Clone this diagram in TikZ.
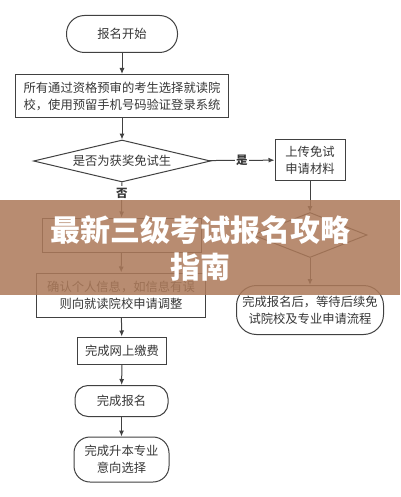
\documentclass[tikz,border=0pt]{standalone}
\usepackage{fontspec}
\setmainfont{Noto Sans CJK SC}
\newfontfamily\cjk{Noto Sans CJK SC}
\usetikzlibrary{shapes.geometric,arrows.meta}
\definecolor{ln}{RGB}{65,65,65}
\definecolor{tx}{RGB}{55,55,55}
\definecolor{band}{RGB}{173,122,90}
\begin{document}
\begin{tikzpicture}[x=1pt,y=-1pt,
  every node/.style={font=\cjk\fontsize{12.3}{17}\selectfont, text=tx, align=center, inner sep=0pt},
  box/.style={draw=ln, line width=1pt, rectangle},
  term/.style={draw=ln, line width=1pt, rectangle, rounded corners=#1},
  dia/.style={draw=ln, line width=1pt, diamond},
  arr/.style={draw=ln, line width=1pt, -{Latex[length=6pt,width=5pt]}},
  lab/.style={fill=white, inner sep=1.5pt, font=\cjk\bfseries\fontsize{11.5}{14}\selectfont}
]
\useasboundingbox (0,0) rectangle (400,497);
\fill[white] (0,0) rectangle (400,497);

\node[term=18pt, minimum width=111pt, minimum height=37pt] (start) at (122,34) {报名开始};
\node[box, minimum width=213pt, minimum height=43pt] (reg) at (122,96) {所有通过资格预审的考生选择就读院\\校，使用预留手机号码验证登录系统};
\node[dia, aspect=4.2, minimum width=177pt, minimum height=42pt] (q1) at (122,161) {是否为获奖免试生};
\node[box, minimum width=70pt, minimum height=40pt] (up) at (310,160) {上传免试\\申请材料};
\node[box, minimum width=159pt, minimum height=34pt] (hida) at (121.5,235) {};
\node[dia, aspect=2.5, minimum width=114pt, minimum height=45pt] (q2) at (310,235) {};
\node[term=20pt, minimum width=147pt, minimum height=49pt] (done2) at (310,310) {完成报名后，等待后续免\\试院校及专业申请流程};
\node[box, minimum width=169pt, minimum height=44pt] (conf) at (121,295) {确认个人信息，如信息有误\\则向就读院校申请调整};
\node[box, minimum width=89pt, minimum height=27pt] (pay) at (122,350.5) {完成网上缴费};
\node[term=13pt, minimum width=93pt, minimum height=31pt] (fin) at (121.5,401) {完成报名};
\node[term=16pt, minimum width=95pt, minimum height=45pt] (major) at (121.5,459.5) {完成升本专业\\意向选择};

\draw[arr] (start) -- (reg);
\draw[arr] (reg) -- (q1);
\draw[arr] (q1) -- node[lab] (yes) {是} (up);
\draw[arr] (q1) -- node[lab, pos=0.3] (no) {否} (hida);
\draw[arr] (up) -- (q2);
\draw[arr] (hida) -- (conf);
\draw[arr] (q2) -- (done2);
\draw[arr] (conf) -- (pay);
\draw[arr] (pay) -- (fin);
\draw[arr] (fin) -- (major);

\fill[band, opacity=0.86] (0,200) rectangle (400,295);
\node[font=\cjk\bfseries\fontsize{30}{37}\selectfont, text=white] (title) at (200,248.5) {最新三级考试报名攻略\\指南};
\end{tikzpicture}
\end{document}
